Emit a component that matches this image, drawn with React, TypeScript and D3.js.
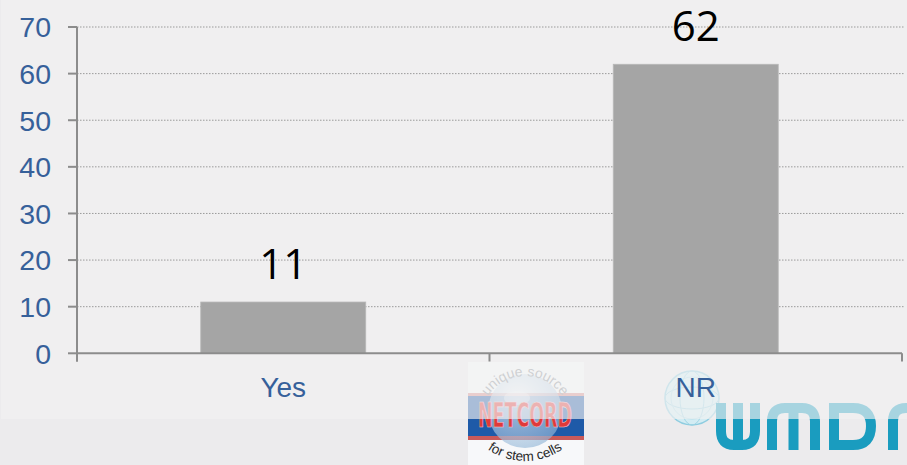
import * as d3 from 'd3';

// Chart values
const categories = ['Yes', 'NR'];
const values = [11, 62];
const yTicks = [0, 10, 20, 30, 40, 50, 60, 70];

const WIDTH = 907;
const HEIGHT = 465;
const PANEL_BOTTOM = 419;
const AXIS_BLUE = '#36609a';
const AXIS_GREY = '#8c8c8c';

function NetcordLogo() {
  const cx = 525;
  return (
    <g>
      <rect x={468} y={362} width={116} height={103} fill="#f7f8fa" />
      <rect x={468} y={393} width={116} height={3} fill="#d98a8a" />
      <rect x={468} y={396} width={116} height={40} fill="#1e5aa8" />
      <rect x={468} y={436} width={116} height={4} fill="#c85a5a" />
      <defs>
        <radialGradient id="globeGrad" cx="40%" cy="35%" r="70%">
          <stop offset="0%" stopColor="#f2f6fa" />
          <stop offset="100%" stopColor="#8fb4d6" />
        </radialGradient>
        <path id="topArc" d={`M ${cx - 44} 420 A 44 44 0 0 1 ${cx + 44} 420`} />
        <path id="bottomArc" d={`M ${cx - 52} 435.6 A 66 66 0 0 0 ${cx + 52} 435.6`} />
      </defs>
      <circle cx={cx} cy={411} r={37} fill="url(#globeGrad)" opacity={0.65} />
      <ellipse cx={cx - 8} cy={398} rx={13} ry={7} fill="#f4f8fb" opacity={0.4} />
      <text fontFamily="'Liberation Sans', sans-serif" fontSize={14} fill="#8b9096">
        <textPath href="#topArc" startOffset="50%" textAnchor="middle">unique source</textPath>
      </text>
      <text
        x={cx}
        y={427}
        textAnchor="middle"
        fontFamily="'DejaVu Sans Condensed', 'DejaVu Sans'"
        fontWeight="bold"
        fontSize={33}
        fill="#e0393a"
        stroke="#f6caca"
        strokeWidth={0.6}
        textLength={94}
        lengthAdjust="spacingAndGlyphs"
      >
        NETCORD
      </text>
      <text fontFamily="'Liberation Sans', sans-serif" fontSize={13.5} fill="#2a2a2a">
        <textPath href="#bottomArc" startOffset="50%" textAnchor="middle">for stem cells</textPath>
      </text>
    </g>
  );
}

function WmdaLogo() {
  const cx = 692;
  const cy = 398;
  const teal = '#1a9cbf';
  return (
    <g>
      <circle cx={cx} cy={cy} r={27} fill="#d3ecf3" stroke="#8fcde0" strokeWidth={1.5} />
      <ellipse cx={cx} cy={cy} rx={12} ry={27} fill="none" stroke="#9dd4e4" />
      <ellipse cx={cx} cy={cy} rx={27} ry={11} fill="none" stroke="#9dd4e4" />
      <ellipse cx={cx} cy={cy} rx={21} ry={21} fill="none" stroke="#b2dde9" />
      <g fill="none" stroke={teal} strokeWidth={10} strokeLinecap="butt">
        <path d="M721 403 V431 Q721 445 734 445 H742 Q755 445 755 431 V403 M738 403 V445" />
        <path d="M772 450 V421 Q772 408 785 408 H802 Q815 408 815 421 V450 M793.5 408 V450" />
        <path d="M834 403 V445 H853 Q871 445 871 426 Q871 408 853 408 H834" />
        <path d="M893 450 V421 Q893 408 906 408 H915" />
      </g>
    </g>
  );
}

export default function App() {
  const x = d3.scaleBand<string>().domain(categories).range([77, 902]).padding(0);
  const y = d3.scaleLinear().domain([0, 70]).range([353.3, 27]);
  const barW = x.bandwidth() * 0.4;
  const boundaries = [77, ...categories.map((c) => (x(c) ?? 0) + x.bandwidth())];

  return (
    <svg
      width={WIDTH}
      height={HEIGHT}
      style={{ position: 'absolute', left: 0, top: 0 }}
      fontFamily="'Liberation Sans', Arial, sans-serif"
    >
      <rect x={0} y={0} width={WIDTH} height={HEIGHT} fill="#ecebed" />

      <NetcordLogo />
      <WmdaLogo />

      {/* translucent slide panel over the logos */}
      <rect x={1} y={0} width={WIDTH - 1} height={PANEL_BOTTOM} fill="#f2f2f2" opacity={0.66} />

      {/* gridlines */}
      {yTicks.filter((t) => t > 0).map((t) => (
        <line
          key={t}
          x1={77}
          x2={904}
          y1={y(t)}
          y2={y(t)}
          stroke="#9a9a9a"
          strokeWidth={1}
          strokeDasharray="1.5,1.5"
        />
      ))}

      {/* bars */}
      {categories.map((c, i) => {
        const cxBar = (x(c) ?? 0) + x.bandwidth() / 2;
        return (
          <g key={c}>
            <rect
              x={cxBar - barW / 2}
              y={y(values[i])}
              width={barW}
              height={y(0) - y(values[i])}
              fill="#a5a5a5"
              stroke="#b8b8b8"
              strokeWidth={0.8}
            />
            <text
              x={cxBar}
              y={y(values[i]) - 23}
              textAnchor="middle"
              fontFamily="'Open Sans', sans-serif"
              fontSize={42}
              fill="#000000"
            >
              {values[i]}
            </text>
            <text x={cxBar} y={396.5} textAnchor="middle" fontSize={28} fill={AXIS_BLUE}>
              {c}
            </text>
          </g>
        );
      })}

      {/* y axis */}
      <line x1={77} x2={77} y1={y(70)} y2={361.5} stroke={AXIS_GREY} strokeWidth={2} />
      {yTicks.map((t) => (
        <g key={t}>
          <line x1={68} x2={77} y1={y(t)} y2={y(t)} stroke={AXIS_GREY} strokeWidth={2} />
          <text x={51} y={y(t) + 10.3} textAnchor="end" fontSize={28.5} fill={AXIS_BLUE}>
            {t}
          </text>
        </g>
      ))}

      {/* x axis */}
      <line x1={77} x2={902} y1={y(0)} y2={y(0)} stroke={AXIS_GREY} strokeWidth={2} />
      {boundaries.map((b) => (
        <line key={b} x1={b} x2={b} y1={y(0)} y2={361.5} stroke={AXIS_GREY} strokeWidth={2} />
      ))}
    </svg>
  );
}
